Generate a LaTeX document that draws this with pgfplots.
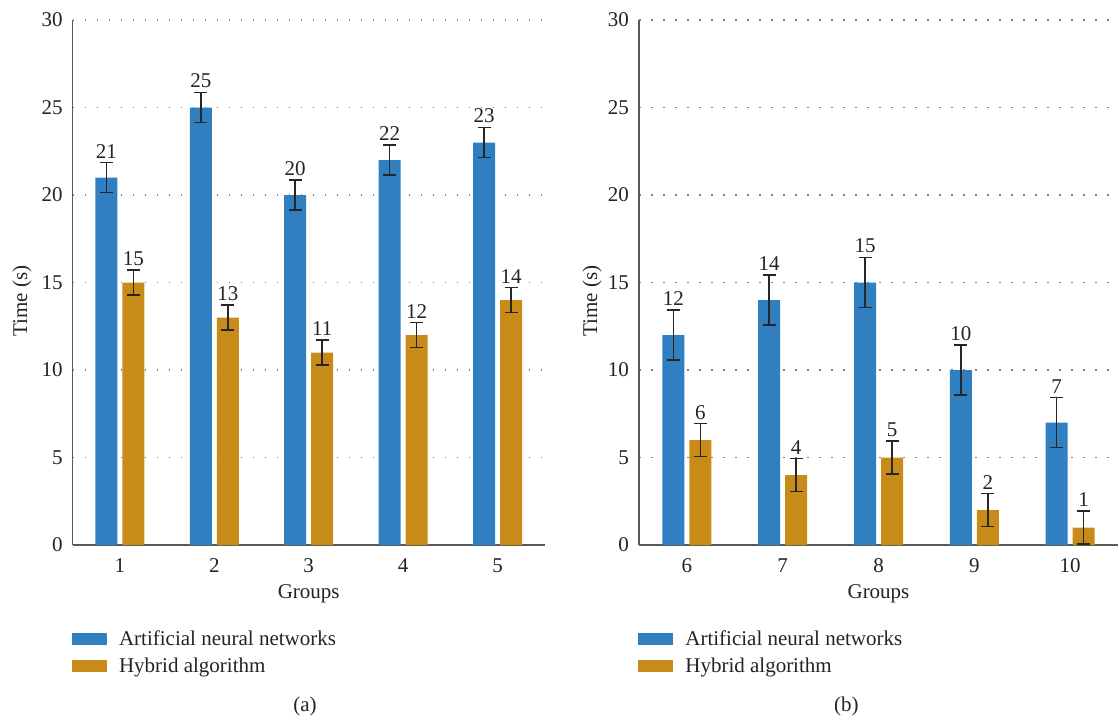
\documentclass[border=0pt]{standalone}
\usepackage{fontspec}
\setmainfont{Liberation Serif}
\usepackage{pgfplots}
\pgfplotsset{compat=1.18}
\definecolor{annblue}{RGB}{47,127,193}
\definecolor{hyborange}{RGB}{201,139,24}
\definecolor{txt}{RGB}{35,35,35}
\definecolor{axgray}{RGB}{90,90,90}

\pgfplotsset{
  panel/.style={
    scale only axis, height=262.5pt,
    ymin=0, ymax=30, ytick={0,5,...,30},
    axis lines=left,
    axis line style={-, axgray, line width=0.8pt},
    major tick length=0pt,
    ymajorgrids,
    grid style={gray, line width=0.8pt, dash pattern=on 0.8pt off 5.2pt},
    xtick=data,
    clip mode=individual,
    /pgf/number format/assume math mode=true,
    tick label style={font=\fontsize{10.5}{12}\selectfont, text=txt},
    xticklabel style={yshift=-3.25pt},
    yticklabel style={xshift=-1.5pt},
    label style={font=\fontsize{10.5}{12}\selectfont, text=txt},
    ylabel={Time (s)},
    xlabel={Groups},
    xlabel style={at={(axis description cs:0.5,-0.0933)}, anchor=center},
    ybar=2.5pt, bar width=11pt,
    legend style={at={(-0.003,-0.154)}, anchor=north west, draw=none, fill=none,
      inner sep=0pt, row sep=0.8pt, font=\fontsize{10.5}{12}\selectfont, text=txt,
      legend cell align=left,
      nodes={inner xsep=6.2pt}},
    legend image code/.code={\fill[##1] (0pt,-3pt) rectangle (17.5pt,3pt);},
    nodes near coords,
    every node near coord/.append style={font=\fontsize{10.5}{12}\selectfont, text=txt, inner sep=0pt, anchor=south},
  },
  ebar/.style={error bars/.cd, y dir=both, y fixed=#1,
    error bar style={line width=0.85pt, black!85},
    error mark options={rotate=90, mark size=3.25pt, line width=0.85pt, black!85},
    /pgfplots/.cd},
}

\begin{document}
\begin{tikzpicture}
\useasboundingbox (0pt,0pt) rectangle (559.5pt,-360pt);
% Panel (a)
\begin{axis}[panel, at={(36.35pt,-272.5pt)}, anchor=south west, width=236pt,
  xmin=0.5, xmax=5.5,
  ylabel style={at={(axis description cs:-0.1075,0.465)}, anchor=center}]
\addplot[fill=annblue, draw=none, ebar=0.86,
  every node near coord/.append style={yshift=9.5pt}]
  coordinates {(1,21) (2,25) (3,20) (4,22) (5,23)};
\addplot[fill=hyborange, draw=none, ebar=0.71,
  every node near coord/.append style={yshift=8.2pt}]
  coordinates {(1,15) (2,13) (3,11) (4,12) (5,14)};
\legend{Artificial neural networks, Hybrid algorithm}
\node[font=\fontsize{10.5}{12}\selectfont, text=txt] at (axis description cs:0.492,-0.3067) {(a)};
\end{axis}
% Panel (b)
\begin{axis}[panel, at={(319.5pt,-272.5pt)}, anchor=south west, width=239.5pt,
  xmin=5.5, xmax=10.5,
  ylabel style={at={(axis description cs:-0.0981,0.465)}, anchor=center}]
\addplot[fill=annblue, draw=none, ebar=1.43,
  every node near coord/.append style={yshift=14.5pt}]
  coordinates {(6,12) (7,14) (8,15) (9,10) (10,7)};
\addplot[fill=hyborange, draw=none, ebar=0.94,
  every node near coord/.append style={yshift=10.2pt}]
  coordinates {(6,6) (7,4) (8,5) (9,2) (10,1)};
\legend{Artificial neural networks, Hybrid algorithm}
\node[font=\fontsize{10.5}{12}\selectfont, text=txt] at (axis description cs:0.433,-0.3067) {(b)};
\end{axis}
\end{tikzpicture}
\end{document}
